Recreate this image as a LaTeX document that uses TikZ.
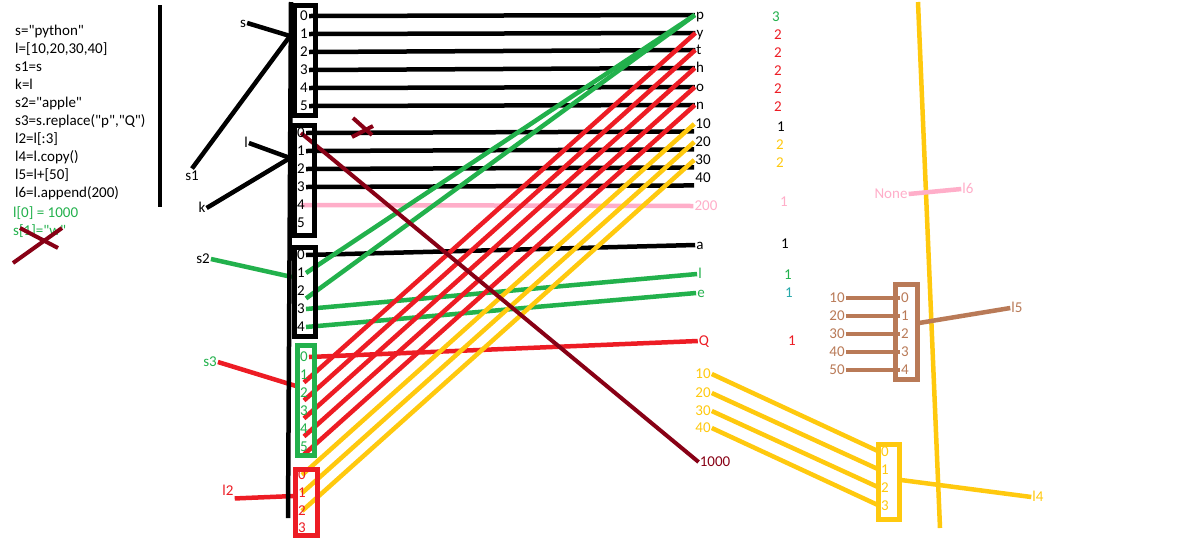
\documentclass[tikz,border=0pt]{standalone}
\usepackage{fontspec}
\setmainfont{Carlito}[Ligatures=TeXOff]
\usepackage{tikz}
\usetikzlibrary{calc,positioning}
\definecolor{pgreen}{RGB}{34,177,76}
\definecolor{pred}{RGB}{237,28,36}
\definecolor{pgold}{RGB}{255,201,14}
\definecolor{ppink}{RGB}{255,174,201}
\definecolor{pbrown}{RGB}{185,122,87}
\definecolor{pdark}{RGB}{136,0,21}
\definecolor{pteal}{RGB}{38,168,170}
\pgfdeclarelayer{bg}
\pgfsetlayers{bg,main}

\begin{document}
\begin{tikzpicture}[x=1pt,y=-1pt,
     txt/.style={inner sep=1pt,text height=10.5pt,text depth=2pt,font=\fontsize{15}{17}\selectfont},
     code/.style={txt,anchor=west},
     cell/.style={line width=4.5pt},
     wire/.style={line width=4.5pt},
     strike/.style={draw=pdark,line width=4pt}]
    \useasboundingbox (0,0) rectangle (1191,542);
    % the code
    \node[code] (c1)  at (14,31)  {s="python"};
    \node[code] (c2)  at (14,49)  {l=[10,20,30,40]};
    \node[code] (c3)  at (14,67)  {s1=s};
    \node[code] (c4)  at (14,85)  {k=l};
    \node[code] (c5)  at (14,103) {s2="apple"};
    \node[code] (c6)  at (14,121) {s3=s.replace("p","Q")};
    \node[code] (c7)  at (14,139) {l2=l[:3]};
    \node[code] (c8)  at (14,157) {l4=l.copy()};
    \node[code] (c9)  at (14,175) {l5=l+[50]};
    \node[code] (c10) at (14,193) {l6=l.append(200)};
    \node[code,pgreen] (c11) at (12,213) {l[0] = 1000};
    \node[code,pgreen] (c12) at (12,231) {s[1]="w"};
    \draw[wire] (160,5) -- (160,207);
    \draw[strike] (13,263) -- (62,228);
    \draw[strike] (20,228) -- (58,248);

    % names
    \node[txt] (s)  at (243,23)  {s};
    \node[txt] (s1) at (192,176) {s1};
    \node[txt] (l)  at (246,143) {l};
    \node[txt] (k)  at (202,208) {k};
    \node[txt] (s2) at (203,259) {s2};
    \node[txt,pgreen] (s3) at (210,362) {s3};
    \node[txt,pred]   (l2) at (228,491) {l2};
    \node[txt,pgold]  (l4) at (1038,497) {l4};
    \node[txt,pbrown] (l5) at (1017,308) {l5};
    \node[txt,ppink]  (l6) at (968,189) {l6};
    \node[txt,ppink]  (none) at (891,194) {None};

    % memory column
    \draw[wire] (291,2) -- (288,518);
    \draw[cell] (294.5,5.5) rectangle (315.5,115.5);
    \draw[cell] (294.5,125.5) rectangle (314.5,235.5);
    \draw[cell] (294.5,247.5) rectangle (315.5,336.5);
    \draw[cell,pgreen] (297.5,345.5) rectangle (314.5,455.5);
    \draw[cell,pred] (295.5,469.5) rectangle (317.5,535.5);
    \draw[cell,pbrown] (895.5,284.5) rectangle (917.5,379.5);
    \draw[cell,pgold] (878.5,444.5) rectangle (899.5,519.5);
    \coordinate (pyref) at (290,36);
    \coordinate (lsref) at (290,158);
    \coordinate (apref) at (292,277);
    \coordinate (qyref) at (296,386);
    \coordinate (slref) at (294,496);
    \coordinate (plref) at (919,323);
    \coordinate (cpref) at (901,480);

    \foreach \i/\y in {0/16,1/34,2/52,3/70,4/88,5/106}
      \node[txt] (py\i) at (304,\y) {\i};
    \foreach \i/\y in {0/133,1/151,2/169,3/187,4/205,5/223}
      \node[txt] (ls\i) at (301,\y) {\i};
    \foreach \i/\y in {0/255,1/273,2/291,3/309,4/327}
      \node[txt] (ap\i) at (301,\y) {\i};
    \foreach \i/\y in {0/357,1/375,2/393,3/411,4/429,5/447}
      \node[txt,pgreen] (qy\i) at (304,\y) {\i};
    \foreach \i/\y in {0/475,1/493,2/511,3/528}
      \node[txt,pred] (sl\i) at (302,\y) {\i};
    \foreach \i/\y in {0/298,1/316,2/334,3/352,4/370}
      \node[txt,pbrown] (pl\i) at (905,\y) {\i};
    \foreach \i/\y in {0/452,1/470,2/488,3/506}
      \node[txt,pgold] (cp\i) at (885,\y) {\i};

    % values
    \node[txt] (tp)  at (700,15)  {p};
    \node[txt] (ty)  at (700,33)  {y};
    \node[txt] (tt)  at (699,50)  {t};
    \node[txt] (th)  at (700,68)  {h};
    \node[txt] (to)  at (700,87)  {o};
    \node[txt] (tn)  at (700,105) {n};
    \node[txt] (t10) at (703,124) {10};
    \node[txt] (t20) at (703,142) {20};
    \node[txt] (t30) at (703,160) {30};
    \node[txt] (t40) at (703,178) {40};
    \node[txt,ppink]  (t200) at (706,206) {200};
    \node[txt]        (ta) at (700,245) {a};
    \node[txt,pgreen] (tl) at (700,274) {l};
    \node[txt,pgreen] (te) at (701,293) {e};
    \node[txt,pred]   (tq) at (704,341) {Q};
    \node[txt,pdark]  (t1000) at (715,462) {1000};
    \node[txt,pgold] (g10) at (703,374) {10};
    \node[txt,pgold] (g20) at (703,393) {20};
    \node[txt,pgold] (g30) at (703,411) {30};
    \node[txt,pgold] (g40) at (703,428) {40};
    \node[txt,pbrown] (b10) at (837,298) {10};
    \node[txt,pbrown] (b20) at (837,316) {20};
    \node[txt,pbrown] (b30) at (837,334) {30};
    \node[txt,pbrown] (b40) at (837,352) {40};
    \node[txt,pbrown] (b50) at (837,370) {50};

    % reference counts
    \node[txt,pgreen] (n1)  at (776,17)  {3};
    \node[txt,pred]   (n2)  at (778,35)  {2};
    \node[txt,pred]   (n3)  at (778,53)  {2};
    \node[txt,pred]   (n4)  at (778,71)  {2};
    \node[txt,pred]   (n5)  at (778,89)  {2};
    \node[txt,pred]   (n6)  at (778,107) {2};
    \node[txt]        (n7)  at (781,127) {1};
    \node[txt,pgold]  (n8)  at (780,145) {2};
    \node[txt,pgold]  (n9)  at (780,163) {2};
    \node[txt,ppink]  (n10) at (784,202) {1};
    \node[txt]        (n11) at (785,244) {1};
    \node[txt,pgreen] (n12) at (788,275) {1};
    \node[txt,pteal]  (n13) at (789,293) {1};
    \node[txt,pred]   (n14) at (792,341) {1};

    \draw[strike] (353,118) -- (372,135);
    \draw[strike] (352,137) -- (373,126);

    \begin{pgfonlayer}{bg}
    \fill[white] (0,0) rectangle (1191,542);
    \draw[wire,pgold] (918,2) -- (940,528);
    % who points where
    \draw[wire] (s.east) -- (pyref);
    \draw[wire] (s1.north) -- (pyref);
    \draw[wire] (l.east) -- (lsref);
    \draw[wire] (k.east) -- (lsref);
    \draw[wire,pgreen] (s2.east) -- (apref);
    \draw[wire,pred] (s3.east) -- (qyref);
    \draw[wire,pred] (l2.south east) -- (slref);
    \draw[wire,pgold] (cpref) -- (l4.west);
    \draw[wire,pbrown] (plref) -- (l5.west);
    \draw[wire,ppink] (none.east) -- (l6.west);
    % "python"
    \draw[wire] (py0.east) -- (tp.west);
    \draw[wire] (py1.east) -- (ty.west);
    \draw[wire] (py2.east) -- (tt.west);
    \draw[wire] (py3.east) -- (th.west);
    \draw[wire] (py4.east) -- (to.west);
    \draw[wire] (py5.east) -- (tn.west);
    % l
    \draw[wire] (ls0.east) -- (t10.south west);
    \draw[wire] (ls1.east) -- (t20.south west);
    \draw[wire] (ls2.east) -- (t30.south west);
    \draw[wire] (ls3.east) -- (t40.south west);
    \draw[wire,ppink] (ls4.center) -- (t200.west);
    % "apple"
    \draw[wire] (ap0.east) -- (ta.west);
    \draw[wire,pgreen] (ap1.east) -- (tp.west);
    \draw[wire,pgreen] (ap2.south east) -- (tp.west);
    \draw[wire,pgreen] (ap3.east) -- (tl.west);
    \draw[wire,pgreen] (ap4.east) -- (te.west);
    % "Qython"
    \draw[wire,pred] (qy0.east) -- (tq.west);
    \draw[wire,pred] (qy1.south) -- (ty.west);
    \draw[wire,pred] (qy2.south) -- (tt.west);
    \draw[wire,pred] (qy3.south) -- (th.west);
    \draw[wire,pred] (qy4.south) -- (to.west);
    \draw[wire,pred] (qy5.south) -- (tn.west);
    % l2
    \draw[wire,pgold] (sl0.center) -- (t10.west);
    \draw[wire,pgold] (sl1.center) -- (t20.west);
    \draw[wire,pgold] (sl2.center) -- (t30.west);
    \draw[line width=4pt,pdark] (ls0.center) -- (t1000.west);
    % l4 and l5
    \draw[wire,pgold] (g10.east) -- (cp0.west);
    \draw[wire,pgold] (g20.east) -- (cp1.west);
    \draw[wire,pgold] (g30.east) -- (cp2.west);
    \draw[wire,pgold] (g40.east) -- (cp3.west);
    \draw[wire,pbrown] (b10.east) -- (pl0.west);
    \draw[wire,pbrown] (b20.east) -- (pl1.west);
    \draw[wire,pbrown] (b30.east) -- (pl2.west);
    \draw[wire,pbrown] (b40.east) -- (pl3.west);
    \draw[wire,pbrown] (b50.east) -- (pl4.west);
    \end{pgfonlayer}
\end{tikzpicture}
\end{document}
